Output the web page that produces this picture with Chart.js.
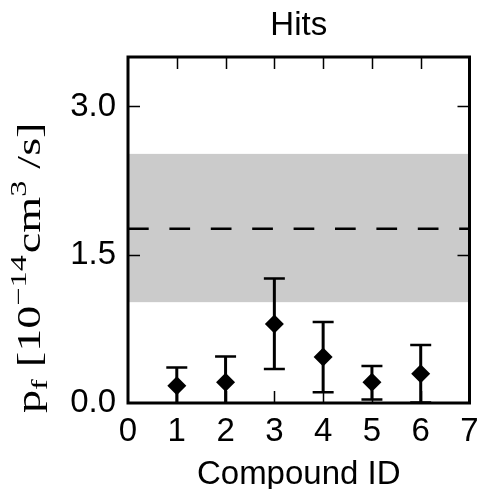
<!DOCTYPE html>
<html>
<head>
<meta charset="utf-8">
<script src="https://cdn.jsdelivr.net/npm/chart.js@4.4.1/dist/chart.umd.min.js"></script>
<style>
  html, body { margin: 0; padding: 0; background: #fff; }
  canvas { display: block; }
</style>
</head>
<body>
<canvas id="myChart" width="479" height="489"></canvas>
<script>
// data ---------------------------------------------
const compoundIds = [1, 2, 3, 4, 5, 6];
const pfValues = [0.175, 0.21, 0.80, 0.465, 0.21, 0.296];
const errLow = [-0.01, -0.05, 0.344, 0.11, 0.036, 0.005];
const errHigh = [0.36, 0.47, 1.26, 0.82, 0.374, 0.587];

// reference band (mean with spread)
const bandMean = 1.763;
const bandLow = 1.02;
const bandHigh = 2.52;

const xTicks = [0, 1, 2, 3, 4, 5, 6, 7];
const yTicks = [0, 1.5, 3.0];
const xRange = [0, 7];
const yRange = [0, 3.5];

const titleText = "Hits";
const xTitle = "Compound ID";

const sansFont = '"Liberation Sans", Arial, sans-serif';

// plugins ------------------------------------------

const bandPlugin = {
  id: "band",
  beforeDatasetsDraw(chart) {
    const { ctx, chartArea, scales } = chart;
    const yTop = scales.y.getPixelForValue(bandHigh);
    const yBot = scales.y.getPixelForValue(bandLow);
    ctx.save();
    ctx.fillStyle = "#cbcbcb";
    ctx.fillRect(chartArea.left, yTop, chartArea.right - chartArea.left, yBot - yTop);
    ctx.restore();
  },
};

const errorBarPlugin = {
  id: "errorBars",
  afterDatasetsDraw(chart) {
    const { ctx, chartArea, scales } = chart;
    ctx.save();
    ctx.beginPath();
    ctx.rect(chartArea.left, chartArea.top, chartArea.right - chartArea.left, chartArea.bottom - chartArea.top);
    ctx.clip();
    ctx.strokeStyle = "#000";
    compoundIds.forEach((id, i) => {
      const x = scales.x.getPixelForValue(id);
      const yLo = scales.y.getPixelForValue(errLow[i]);
      const yHi = scales.y.getPixelForValue(errHigh[i]);
      ctx.lineWidth = 3;
      ctx.beginPath();
      ctx.moveTo(x, yLo);
      ctx.lineTo(x, yHi);
      ctx.stroke();
      ctx.lineWidth = 2.5;
      ctx.beginPath();
      ctx.moveTo(x - 10.5, yLo);
      ctx.lineTo(x + 10.5, yLo);
      ctx.moveTo(x - 10.5, yHi);
      ctx.lineTo(x + 10.5, yHi);
      ctx.stroke();
    });
    ctx.restore();
  },
};

const framePlugin = {
  id: "frame",
  afterDraw(chart) {
    const { ctx, chartArea, scales } = chart;
    const { left, right, top, bottom } = chartArea;
    ctx.save();
    ctx.strokeStyle = "#000";
    // inward ticks
    ctx.lineWidth = 1.5;
    ctx.beginPath();
    xTicks.forEach((v) => {
      if (v === xRange[0] || v === xRange[1]) return;
      const x = Math.round(scales.x.getPixelForValue(v)) + 0.5;
      ctx.moveTo(x, bottom);
      ctx.lineTo(x, bottom - 12);
      ctx.moveTo(x, top);
      ctx.lineTo(x, top + 12);
    });
    yTicks.forEach((v) => {
      if (v === yRange[0]) return;
      const y = Math.round(scales.y.getPixelForValue(v)) + 0.5;
      ctx.moveTo(left, y);
      ctx.lineTo(left + 12, y);
      ctx.moveTo(right, y);
      ctx.lineTo(right - 12, y);
    });
    ctx.stroke();
    // box
    ctx.lineWidth = 3;
    ctx.strokeRect(left, top, right - left, bottom - top);
    ctx.restore();
  },
};

// y axis label with sub/superscripts (serif, math style)
const yLabelPlugin = {
  id: "yLabel",
  afterDraw(chart) {
    const { ctx } = chart;
    const size = 33;
    const stretch = 1.4;
    const parts = [
      { t: "p", s: 1, dy: 0, gap: 0 },
      { t: "f", s: 0.7, dy: 7, gap: 0 },
      { t: "[10", s: 1, dy: 0, gap: 12 },
      { t: "\u221214", s: 0.7, dy: -14, gap: 0 },
      { t: "cm", s: 1, dy: 0, gap: 2 },
      { t: "3", s: 0.7, dy: -14, gap: 0 },
      { t: "/s]", s: 1, dy: 0, gap: 12 },
    ];
    ctx.save();
    ctx.translate(40, 413);
    ctx.rotate(-Math.PI / 2);
    ctx.scale(stretch, 1);
    ctx.fillStyle = "#000";
    ctx.textBaseline = "alphabetic";
    let x = 0;
    parts.forEach((p) => {
      x += p.gap / stretch;
      ctx.font = Math.round(size * p.s) + 'px "Liberation Serif"';
      ctx.fillText(p.t, x, p.dy);
      x += ctx.measureText(p.t).width;
    });
    ctx.restore();
  },
};

// chart --------------------------------------------

const ctx = document.getElementById("myChart").getContext("2d");
const myChart = new Chart(ctx, {
  type: "scatter",
  data: {
    datasets: [
      {
        label: "mean",
        type: "line",
        data: [
          { x: xRange[0], y: bandMean },
          { x: xRange[1], y: bandMean },
        ],
        borderColor: "#000",
        borderWidth: 2.5,
        borderDash: [20.7, 20.7],
        borderDashOffset: 0,
        pointRadius: 0,
        fill: false,
        clip: false,
      },
      {
        label: "hits",
        data: compoundIds.map((id, i) => ({ x: id, y: pfValues[i] })),
        pointStyle: "rectRot",
        pointRadius: 9.5,
        pointHoverRadius: 9.5,
        backgroundColor: "#000",
        borderColor: "#000",
        borderWidth: 0,
      },
    ],
  },
  options: {
    responsive: false,
    animation: false,
    events: [],
    layout: { padding: { left: 0, right: 9, top: 0, bottom: 0 } },
    plugins: {
      legend: { display: false },
      tooltip: { enabled: false },
      title: {
        display: true,
        text: titleText,
        fullSize: false,
        color: "#000",
        font: { family: sansFont, size: 33, weight: "normal" },
        padding: { top: 6, bottom: 11.4 },
      },
    },
    scales: {
      x: {
        type: "linear",
        min: xRange[0],
        max: xRange[1],
        grid: { display: false, drawTicks: false },
        border: { display: false },
        afterBuildTicks: (scale) => {
          scale.ticks = xTicks.map((v) => ({ value: v }));
        },
        afterFit: (scale) => {
          scale.height = 86;
          scale.paddingLeft = 0;
          scale.paddingRight = 0;
        },
        ticks: {
          color: "#000",
          padding: 9,
          maxRotation: 0,
          font: { family: sansFont, size: 33 },
          callback: (v) => String(v),
        },
        title: {
          display: true,
          text: xTitle,
          color: "#000",
          padding: { top: 0, bottom: -6 },
          font: { family: sansFont, size: 33 },
        },
      },
      y: {
        type: "linear",
        min: yRange[0],
        max: yRange[1],
        grid: { display: false, drawTicks: false },
        border: { display: false },
        afterBuildTicks: (scale) => {
          scale.ticks = yTicks.map((v) => ({ value: v }));
        },
        afterFit: (scale) => {
          scale.width = 128;
        },
        ticks: {
          color: "#000",
          padding: 12,
          font: { family: sansFont, size: 33 },
          callback: (v) => v.toFixed(1),
        },
      },
    },
  },
  plugins: [bandPlugin, errorBarPlugin, framePlugin, yLabelPlugin],
});
</script>
</body>
</html>
